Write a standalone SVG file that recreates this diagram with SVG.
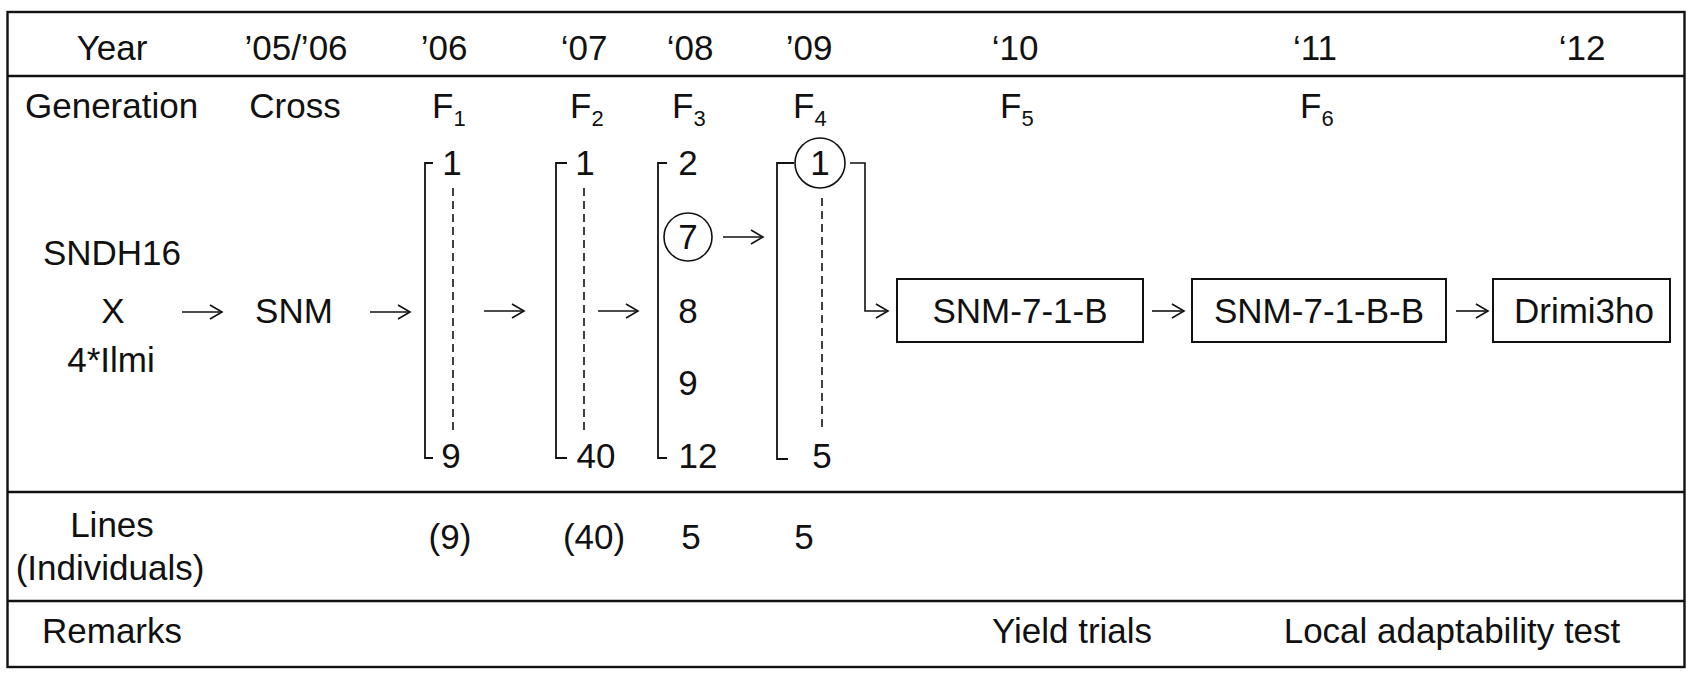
<svg xmlns="http://www.w3.org/2000/svg" width="1693" height="674" viewBox="0 0 1693 674">
<style>
text{font-family:"Liberation Sans",Arial,sans-serif;font-size:35px;fill:#111;}
.m{text-anchor:middle;}
.sub{font-size:22px;}
.frame{fill:none;stroke:#111;stroke-width:2.4;}
.ln{fill:none;stroke:#111;stroke-width:1.8;}
.dash{fill:none;stroke:#111;stroke-width:1.6;stroke-dasharray:8 5;}
.box{fill:#fff;stroke:#111;stroke-width:2;}
.circ{fill:none;stroke:#111;stroke-width:1.6;}
.arr{fill:none;stroke:#111;stroke-width:1.6;marker-end:url(#ah);}
</style>
<defs>
<marker id="ah" markerWidth="16" markerHeight="16" refX="13" refY="8" orient="auto" markerUnits="userSpaceOnUse">
<polyline points="1,1 13,8 1,15" fill="none" stroke="#111" stroke-width="1.6"/>
</marker>
</defs>
<rect width="1693" height="674" fill="#fff"/>
<g id="table">
<rect class="frame" x="7.5" y="12" width="1677" height="655"/>
<line class="frame" x1="7.5" y1="76" x2="1684.5" y2="76"/>
<line class="frame" x1="7.5" y1="492" x2="1684.5" y2="492"/>
<line class="frame" x1="7.5" y1="601" x2="1684.5" y2="601"/>
</g>
<g id="year-row">
<text class="m" x="112" y="60">Year</text>
<text class="m" x="296" y="60">’05/’06</text>
<text class="m" x="444" y="60">’06</text>
<text class="m" x="584" y="60">‘07</text>
<text class="m" x="690" y="60">‘08</text>
<text class="m" x="809" y="60">’09</text>
<text class="m" x="1015" y="60">‘10</text>
<text class="m" x="1315" y="60">‘11</text>
<text class="m" x="1582" y="60">‘12</text>
</g>
<g id="generation-row">
<text x="25" y="118">Generation</text>
<text class="m" x="295" y="118">Cross</text>
<text x="432" y="118">F<tspan class="sub" dy="8">1</tspan></text>
<text x="570" y="118">F<tspan class="sub" dy="8">2</tspan></text>
<text x="672" y="118">F<tspan class="sub" dy="8">3</tspan></text>
<text x="793" y="118">F<tspan class="sub" dy="8">4</tspan></text>
<text x="1000" y="118">F<tspan class="sub" dy="8">5</tspan></text>
<text x="1300" y="118">F<tspan class="sub" dy="8">6</tspan></text>
</g>
<g id="parents">
<text class="m" x="112" y="265">SNDH16</text>
<text class="m" x="113" y="323">X</text>
<text class="m" x="111" y="372">4*Ilmi</text>
</g>
<g id="snm">
<text class="m" x="294" y="323">SNM</text>
</g>
<g id="f1-bracket">
<polyline class="ln" points="433,163 425,163 425,458 433,458"/>
<line class="dash" x1="453" y1="188" x2="453" y2="433"/>
<text class="m" x="452" y="175">1</text>
<text class="m" x="451" y="468">9</text>
</g>
<g id="f2-bracket">
<polyline class="ln" points="567,163 556,163 556,458 567,458"/>
<line class="dash" x1="584" y1="188" x2="584" y2="433"/>
<text class="m" x="585" y="175">1</text>
<text class="m" x="596" y="468">40</text>
</g>
<g id="f3-bracket">
<polyline class="ln" points="667,163 658,163 658,458 667,458"/>
<text class="m" x="688" y="175">2</text>
<circle class="circ" cx="688" cy="237" r="24"/>
<text class="m" x="688" y="249">7</text>
<text class="m" x="688" y="323">8</text>
<text class="m" x="688" y="395">9</text>
<text class="m" x="698" y="468">12</text>
</g>
<g id="f4-bracket">
<polyline class="ln" points="794,163 777,163 777,459 788,459"/>
<circle class="circ" cx="820" cy="163" r="25"/>
<text class="m" x="820" y="175">1</text>
<line class="dash" x1="822" y1="198" x2="822" y2="430"/>
<text class="m" x="822" y="468">5</text>
</g>
<g id="snm-7-1-b">
<rect class="box" x="897" y="279" width="246" height="63"/>
<text class="m" x="1020" y="323">SNM-7-1-B</text>
</g>
<g id="snm-7-1-b-b">
<rect class="box" x="1192" y="279" width="254" height="63"/>
<text class="m" x="1319" y="323">SNM-7-1-B-B</text>
</g>
<g id="drimi3ho">
<rect class="box" x="1493" y="279" width="177" height="63"/>
<text class="m" x="1584" y="323">Drimi3ho</text>
</g>
<g id="lines-row">
<text class="m" x="112" y="537">Lines</text>
<text class="m" x="110" y="580">(Individuals)</text>
<text class="m" x="450" y="549">(9)</text>
<text class="m" x="594" y="549">(40)</text>
<text class="m" x="691" y="549">5</text>
<text class="m" x="804" y="549">5</text>
</g>
<g id="remarks-row">
<text class="m" x="112" y="643">Remarks</text>
<text class="m" x="1072" y="643">Yield trials</text>
<text class="m" x="1452" y="643">Local adaptability test</text>
</g>
<g id="connectors">
<line class="arr" x1="182" y1="312" x2="222" y2="312"/>
<line class="arr" x1="370" y1="312" x2="410" y2="312"/>
<line class="arr" x1="484" y1="311" x2="524" y2="311"/>
<line class="arr" x1="598" y1="311" x2="638" y2="311"/>
<line class="arr" x1="723" y1="237" x2="763" y2="237"/>
<polyline class="arr" points="850,163 865,163 865,311 888,311"/>
<line class="arr" x1="1152" y1="311" x2="1184" y2="311"/>
<line class="arr" x1="1456" y1="311" x2="1488" y2="311"/>
</g>
</svg>
